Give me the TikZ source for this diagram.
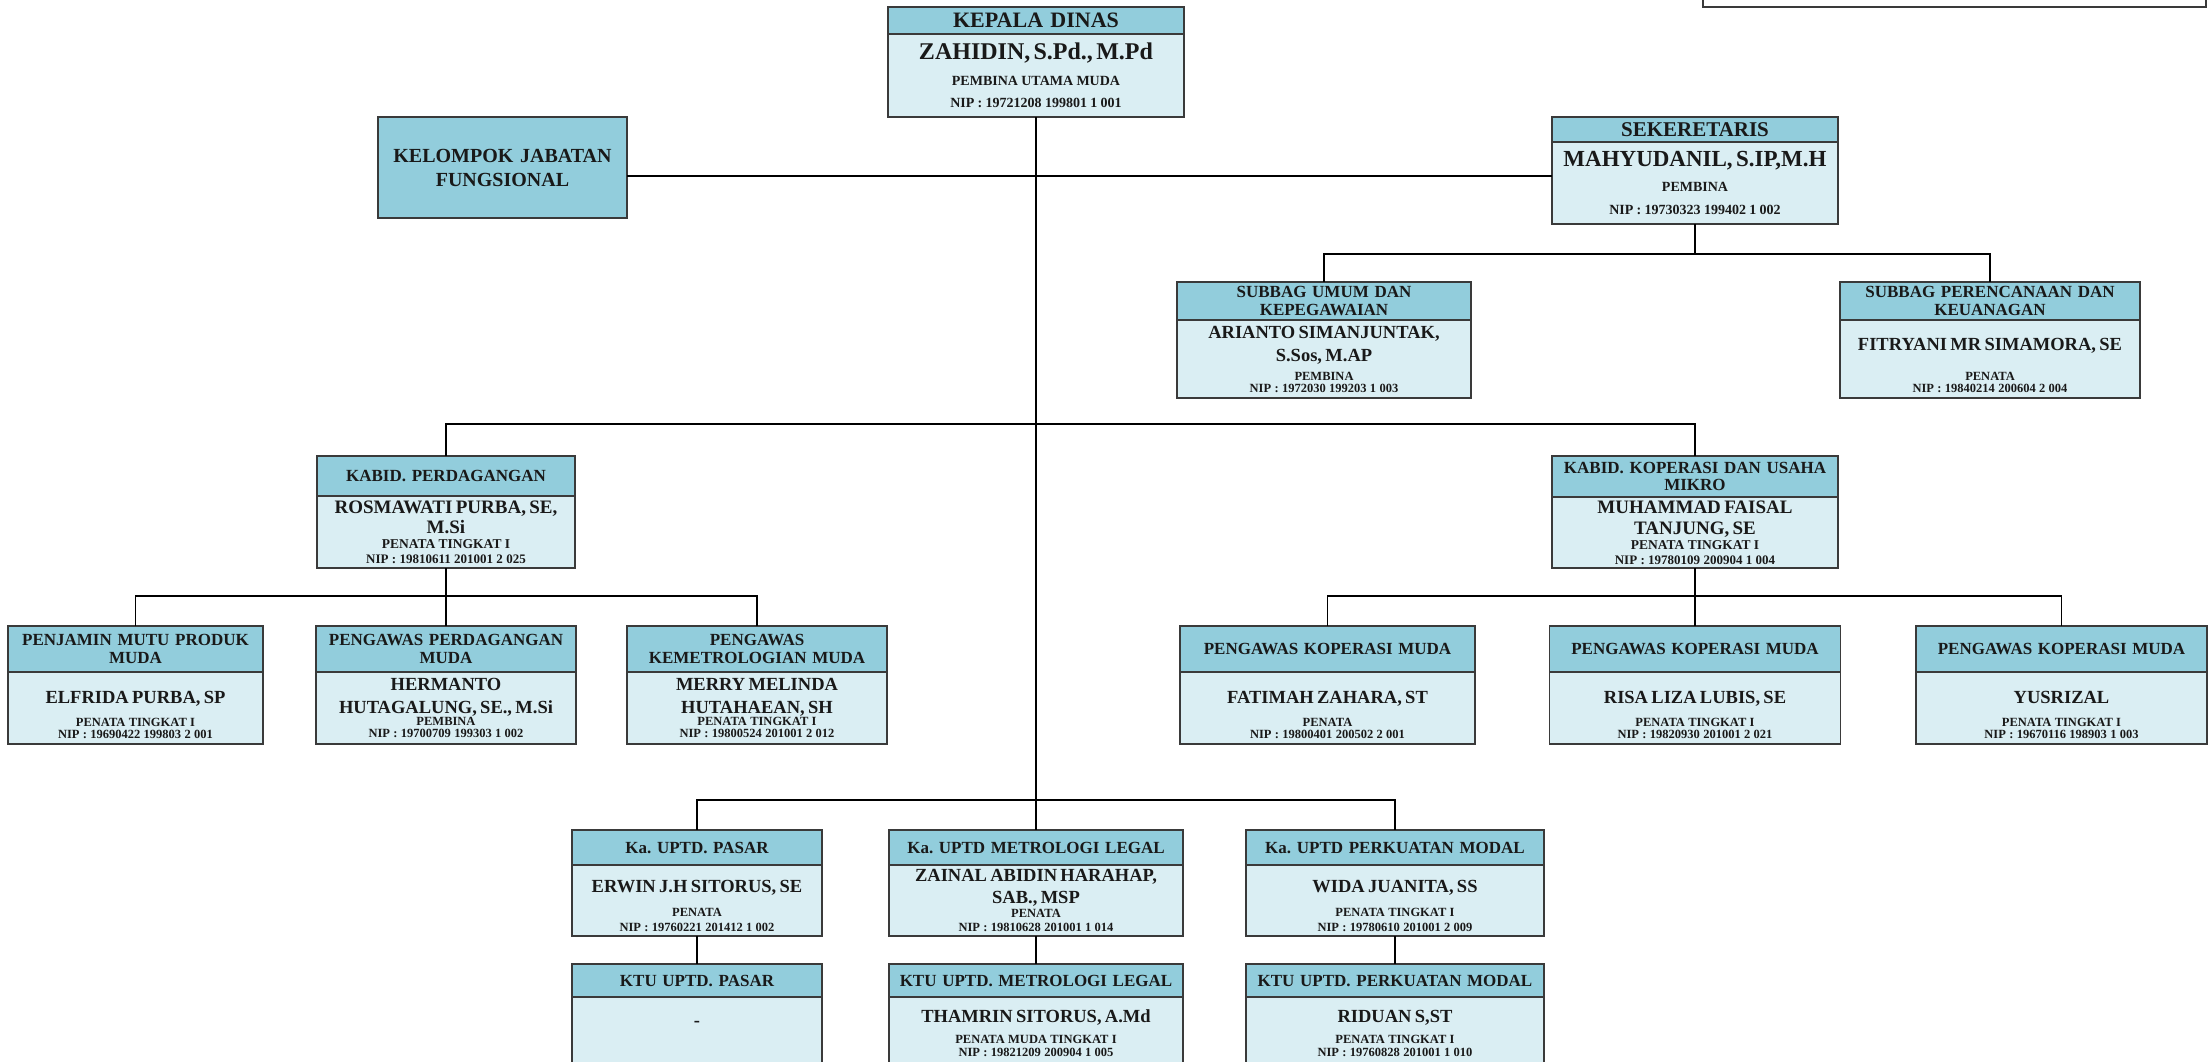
\documentclass[tikz,border=0pt]{standalone}
\usepackage{fontspec}
\setmainfont{Liberation Serif}
\usetikzlibrary{positioning}
\frenchspacing

\definecolor{hdblue}{HTML}{92CDDC}
\definecolor{bdblue}{HTML}{DAEEF3}
\definecolor{boxline}{HTML}{3A3A3A}

\newcommand\fhd{\fontsize{17}{17.5}\selectfont}
\newcommand\txtline[3]{{\parindent=0pt\fontsize{#1}{#2}\selectfont\noindent #3\par}}

\tikzset{
  unit/.style 2 args={draw=boxline, line width=1.6pt, inner xsep=0pt, inner ysep=0pt, outer sep=0pt,
    text width=#1, minimum width=#1, minimum height=#2, align=center, font=\bfseries, text=black!90},
  hd/.style={fill=hdblue, font=\bfseries\fhd},
  bd/.style={fill=bdblue},
  link/.style={line width=1.8pt, black},
}

\begin{document}
\begin{tikzpicture}[x=1pt, y=-1pt]
\useasboundingbox (0,0) rectangle (2209,1062);

\node[unit={503pt}{60pt}, fill=white, anchor=south] (ttd) at (1954.5,7) {};

\node[unit={296pt}{27pt}, hd, font=\bfseries\fontsize{22}{24}\selectfont, anchor=north] (kepH) at (1036,7) {KEPALA DINAS};
\node[unit={296pt}{83pt}, bd, below=0pt of kepH] (kepB) {\txtline{24}{26}{ZAHIDIN, S.Pd., M.Pd}
  \txtline{14}{25.5}{PEMBINA UTAMA MUDA}\txtline{14}{22}{NIP : 19721208 199801 1 001}};

\node[unit={249pt}{101pt}, hd, font=\bfseries\fontsize{20}{24}\selectfont, anchor=north] (kjf) at (502.5,117) {KELOMPOK JABATAN\\FUNGSIONAL};

\node[unit={286pt}{25pt}, hd, font=\bfseries\fontsize{21}{23}\selectfont, anchor=north] (sekH) at (1695,117) {SEKERETARIS};
\node[unit={286pt}{82pt}, bd, below=0pt of sekH] (sekB) {\txtline{23}{25}{MAHYUDANIL, S.IP,M.H}
  \txtline{14}{25}{PEMBINA}\txtline{14}{23}{NIP : 19730323 199402 1 002}};

\node[unit={294pt}{38pt}, hd, anchor=north] (sumH) at (1324,282) {SUBBAG UMUM DAN\\KEPEGAWAIAN};
\node[unit={294pt}{78pt}, bd, below=0pt of sumH] (sumB) {\txtline{18.5}{23}{ARIANTO SIMANJUNTAK,\\S.Sos, M.AP}
  \txtline{12.5}{19.5}{PEMBINA}\txtline{12.5}{11.5}{NIP : 1972030 199203 1 003}};

\node[unit={300pt}{38pt}, hd, anchor=north] (srenH) at (1990,282) {SUBBAG PERENCANAAN DAN\\KEUANAGAN};
\node[unit={300pt}{78pt}, bd, below=0pt of srenH] (srenB) {\txtline{18.5}{20}{\rule{0pt}{25pt}FITRYANI MR SIMAMORA, SE}
  \txtline{12.5}{30}{PENATA}\txtline{12.5}{11.5}{NIP : 19840214 200604 2 004}};

\node[unit={258pt}{40pt}, hd, anchor=north] (kpdH) at (446,456) {KABID. PERDAGANGAN};
\node[unit={258pt}{72pt}, bd, below=0pt of kpdH] (kpdB) {\txtline{19}{20}{ROSMAWATI PURBA, SE,\\M.Si}
  \txtline{13.5}{15}{PENATA TINGKAT I}\txtline{13}{15}{NIP : 19810611 201001 2 025}};

\node[unit={286pt}{41pt}, hd, anchor=north] (kkpH) at (1695,456) {KABID. KOPERASI DAN USAHA\\MIKRO};
\node[unit={286pt}{71pt}, bd, below=0pt of kkpH] (kkpB) {\txtline{19}{21}{MUHAMMAD FAISAL\\TANJUNG, SE}
  \txtline{13.5}{15}{PENATA TINGKAT I}\txtline{13}{15}{NIP : 19780109 200904 1 004}};

\node[unit={255pt}{46pt}, hd, anchor=north] (pjmH) at (135.5,626) {PENJAMIN MUTU PRODUK\\MUDA};
\node[unit={255pt}{72pt}, bd, below=0pt of pjmH] (pjmB) {\txtline{18.5}{20}{\rule{0pt}{26.5pt}ELFRIDA PURBA, SP}
  \txtline{12.5}{22.5}{PENATA TINGKAT I}\txtline{12.5}{12}{NIP : 19690422 199803 2 001}};

\node[unit={260pt}{46pt}, hd, anchor=north] (pwpH) at (446,626) {PENGAWAS PERDAGANGAN\\MUDA};
\node[unit={260pt}{72pt}, bd, below=0pt of pwpH] (pwpB) {\txtline{18.5}{23}{HERMANTO\\HUTAGALUNG, SE., M.Si}
  \txtline{12.5}{12}{PEMBINA}\txtline{12.5}{12}{NIP : 19700709 199303 1 002}};

\node[unit={260pt}{46pt}, hd, anchor=north] (pkmH) at (757,626) {PENGAWAS\\KEMETROLOGIAN MUDA};
\node[unit={260pt}{72pt}, bd, below=0pt of pkmH] (pkmB) {\txtline{18.5}{23}{MERRY MELINDA\\HUTAHAEAN, SH}
  \txtline{12.5}{12}{PENATA TINGKAT I}\txtline{12.5}{12}{NIP : 19800524 201001 2 012}};

\node[unit={295pt}{46pt}, hd, anchor=north] (pk1H) at (1327.5,626) {PENGAWAS KOPERASI MUDA};
\node[unit={295pt}{72pt}, bd, below=0pt of pk1H] (pk1B) {\txtline{18.5}{20}{\rule{0pt}{26.5pt}FATIMAH ZAHARA, ST}
  \txtline{12.5}{22.5}{PENATA}\txtline{12.5}{12}{NIP : 19800401 200502 2 001}};

\node[unit={291pt}{46pt}, hd, anchor=north] (pk2H) at (1695,626) {PENGAWAS KOPERASI MUDA};
\node[unit={291pt}{72pt}, bd, below=0pt of pk2H] (pk2B) {\txtline{18.5}{20}{\rule{0pt}{26.5pt}RISA LIZA LUBIS, SE}
  \txtline{12.5}{22.5}{PENATA TINGKAT I}\txtline{12.5}{12}{NIP : 19820930 201001 2 021}};

\node[unit={291pt}{46pt}, hd, anchor=north] (pk3H) at (2061.5,626) {PENGAWAS KOPERASI MUDA};
\node[unit={291pt}{72pt}, bd, below=0pt of pk3H] (pk3B) {\txtline{18.5}{20}{\rule{0pt}{26.5pt}YUSRIZAL}
  \txtline{12.5}{22.5}{PENATA TINGKAT I}\txtline{12.5}{12}{NIP : 19670116 198903 1 003}};

\node[unit={250pt}{35pt}, hd, anchor=north] (upsH) at (697,830) {Ka. UPTD. PASAR};
\node[unit={250pt}{71pt}, bd, below=0pt of upsH] (upsB) {\txtline{18.5}{20}{\rule{0pt}{23.5pt}ERWIN J.H SITORUS, SE}
  \txtline{12.5}{23.5}{PENATA}\txtline{12.5}{15}{NIP : 19760221 201412 1 002}};

\node[unit={294pt}{35pt}, hd, anchor=north] (umlH) at (1036,830) {Ka. UPTD METROLOGI LEGAL};
\node[unit={294pt}{71pt}, bd, below=0pt of umlH] (umlB) {\txtline{18.5}{22}{ZAINAL ABIDIN HARAHAP,\\SAB., MSP}
  \txtline{12.5}{14.5}{PENATA}\txtline{12.5}{14}{NIP : 19810628 201001 1 014}};

\node[unit={298pt}{35pt}, hd, anchor=north] (upmH) at (1395,830) {Ka. UPTD PERKUATAN MODAL};
\node[unit={298pt}{71pt}, bd, below=0pt of upmH] (upmB) {\txtline{18.5}{20}{\rule{0pt}{23.5pt}WIDA JUANITA, SS}
  \txtline{12.5}{23.5}{PENATA TINGKAT I}\txtline{12.5}{15}{NIP : 19780610 201001 2 009}};

\node[unit={250pt}{33pt}, hd, anchor=north] (ktsH) at (697,964) {KTU UPTD. PASAR};
\node[unit={250pt}{66pt}, bd, below=0pt of ktsH] (ktsB) {\txtline{18.5}{20}{\rule[-16pt]{0pt}{24pt}-}};

\node[unit={294pt}{33pt}, hd, anchor=north] (ktlH) at (1036,964) {KTU UPTD. METROLOGI LEGAL};
\node[unit={294pt}{66pt}, bd, below=0pt of ktlH] (ktlB) {\txtline{18.5}{20}{\rule{0pt}{19.5pt}THAMRIN SITORUS, A.Md}
  \txtline{12.5}{21.5}{PENATA MUDA TINGKAT I}\txtline{12.5}{13}{NIP : 19821209 200904 1 005}};

\node[unit={298pt}{33pt}, hd, anchor=north] (ktmH) at (1395,964) {KTU UPTD. PERKUATAN MODAL};
\node[unit={298pt}{66pt}, bd, below=0pt of ktmH] (ktmB) {\txtline{18.5}{20}{\rule{0pt}{19.5pt}RIDUAN S,ST}
  \txtline{12.5}{21.5}{PENATA TINGKAT I}\txtline{12.5}{13}{NIP : 19760828 201001 1 010}};

\draw[link] (kepB.south) -- (umlH.north);
\coordinate (jf) at (1036,176);
\draw[link] (kjf.east |- jf) -- (sekB.west |- jf);
\draw[link] (sekB.south) -- ++(0,30) -| (sumH.north);
\draw[link] (sekB.south) -- ++(0,30) -| (srenH.north);
\coordinate (kb) at (1036,424);
\draw[link] (kb) -| (kpdH.north);
\draw[link] (kb) -| (kkpH.north);
\draw[link] (kpdB.south) -- ++(0,28) -| (pjmH.north);
\draw[link] (kpdB.south) -- (pwpH.north);
\draw[link] (kpdB.south) -- ++(0,28) -| (pkmH.north);
\draw[link] (kkpB.south) -- ++(0,28) -| (pk1H.north);
\draw[link] (kkpB.south) -- (pk2H.north);
\draw[link] (kkpB.south) -- ++(0,28) -| (pk3H.north);
\coordinate (up) at (1036,800);
\draw[link] (up) -| (upsH.north);
\draw[link] (up) -| (upmH.north);
\draw[link] (upsB.south) -- (ktsH.north);
\draw[link] (umlB.south) -- (ktlH.north);
\draw[link] (upmB.south) -- (ktmH.north);
\end{tikzpicture}
\end{document}
